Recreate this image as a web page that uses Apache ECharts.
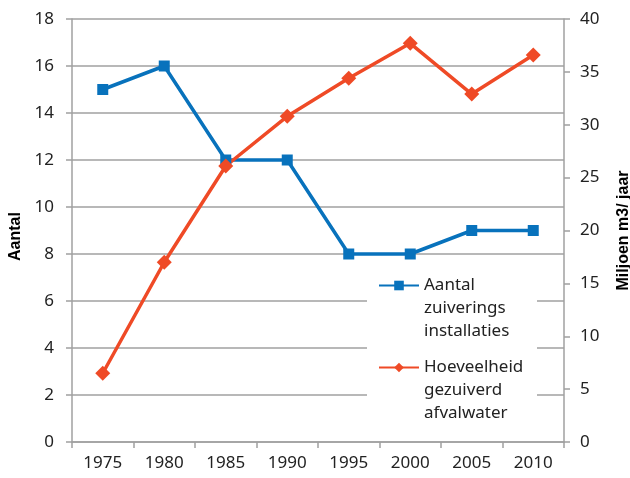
<!DOCTYPE html>
<html>
<head>
<meta charset="utf-8">
<script src="https://cdn.jsdelivr.net/npm/echarts@6/dist/echarts.min.js"></script>
<style>
  html, body { margin: 0; padding: 0; background: #fff; }
  #main { width: 630px; height: 478px; }
</style>
</head>
<body>
<div id="main"></div>
<script>
// data
var years = ['1975', '1980', '1985', '1990', '1995', '2000', '2005', '2010'];
var aantal = [15, 16, 12, 12, 8, 8, 9, 9];
var hoeveelheid = [6.5, 17.0, 26.1, 30.8, 34.4, 37.7, 32.9, 36.6];
var nameAantal = 'Aantal\nzuiverings\ninstallaties';
var nameHoeveelheid = 'Hoeveelheid\ngezuiverd\nafvalwater';

var blue = '#0872BC';
var red = '#EF4A26';
var gridGray = '#A0A0A0';
var tickFont = '"Noto Sans", sans-serif';

var chartDom = document.getElementById('main');
var myChart = echarts.init(chartDom);

function legendAt(name, top) {
  return {
    data: [name],
    orient: 'vertical',
    left: 378,
    top: top,
    padding: 0,
    itemWidth: 40,
    itemHeight: 12,
    selectedMode: false,
    // two empty lines in front so the first real line sits level with the icon
    formatter: function (n) { return '\n\n' + n; },
    textStyle: {
      fontFamily: tickFont,
      fontSize: 17,
      color: '#222',
      lineHeight: 23
    }
  };
}

var option = {
  backgroundColor: '#fff',
  animation: false,
  grid: { left: 72, right: 66, top: 19, bottom: 36, outerBoundsMode: 'none', containLabel: false },
  legend: [legendAt(nameAantal, 228), legendAt(nameHoeveelheid, 310)],
  graphic: [{
    type: 'rect',
    z: 3,
    shape: { x: 367, y: 265, width: 170, height: 160 },
    style: { fill: '#fff' }
  }],
  xAxis: {
    type: 'category',
    data: years,
    boundaryGap: true,
    axisLine: { lineStyle: { color: gridGray, width: 1.5 } },
    axisTick: { show: true, length: 6, lineStyle: { color: gridGray, width: 1.5 } },
    axisLabel: { fontFamily: tickFont, fontSize: 17, color: '#222', margin: 13 }
  },
  yAxis: [{
    type: 'value',
    min: 0, max: 18, interval: 2,
    name: 'Aantal',
    nameLocation: 'middle',
    nameGap: 48,
    nameTextStyle: { fontFamily: '"Liberation Sans", Arial, sans-serif', fontSize: 16, fontWeight: 'bold', color: '#000', padding: [0, 12, 0, 0] },
    axisLine: { show: true, lineStyle: { color: gridGray, width: 1.5 } },
    axisTick: { show: true, length: 6, lineStyle: { color: gridGray, width: 1.5 } },
    axisLabel: { fontFamily: tickFont, fontSize: 17, color: '#222', margin: 18 },
    splitLine: { lineStyle: { color: gridGray, width: 1.5 } }
  }, {
    type: 'value',
    min: 0, max: 40, interval: 5,
    name: 'Miljoen m3/ jaar',
    nameLocation: 'middle',
    nameGap: 52,
    nameTextStyle: { fontFamily: '"Liberation Sans", Arial, sans-serif', fontSize: 16, fontWeight: 'bold', color: '#000' },
    axisLine: { show: true, lineStyle: { color: gridGray, width: 1.5 } },
    axisTick: { show: true, length: 6, lineStyle: { color: gridGray, width: 1.5 } },
    axisLabel: { fontFamily: tickFont, fontSize: 17, color: '#222', margin: 16 },
    splitLine: { show: false }
  }],
  series: [{
    name: nameAantal,
    type: 'line',
    yAxisIndex: 0,
    data: aantal,
    symbol: 'rect',
    symbolSize: 11,
    lineStyle: { color: blue, width: 3.5 },
    itemStyle: { color: blue }
  }, {
    name: nameHoeveelheid,
    type: 'line',
    yAxisIndex: 1,
    data: hoeveelheid,
    symbol: 'diamond',
    symbolSize: 15,
    lineStyle: { color: red, width: 3.5 },
    itemStyle: { color: red }
  }]
};

option && myChart.setOption(option);
</script>
</body>
</html>
